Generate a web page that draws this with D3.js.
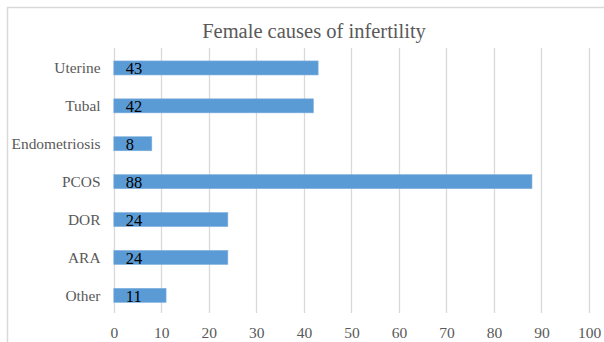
<!DOCTYPE html>
<html>
<head>
<meta charset="utf-8">
<script src="https://cdn.jsdelivr.net/npm/d3@7/dist/d3.min.js"></script>
<style>
  html, body { margin: 0; padding: 0; background: #fff; }
  svg { display: block; }
</style>
</head>
<body>
<svg id="chart" width="604" height="342"></svg>
<script>
// Female causes of infertility (counts)
const categories = ["Uterine", "Tubal", "Endometriosis", "PCOS", "DOR", "ARA", "Other"];
const counts = [43, 42, 8, 88, 24, 24, 11];
const xTicks = [0, 10, 20, 30, 40, 50, 60, 70, 80, 90, 100];
const title = "Female causes of infertility";

const SERIF = "'Liberation Serif', 'Times New Roman', Times, serif";

const svg = d3.select("#chart");

// chart frame
svg.append("rect")
  .attr("x", 7.5).attr("y", 7.5)
  .attr("width", 610).attr("height", 350)
  .attr("fill", "#fff")
  .attr("stroke", "#d9d9d9")
  .attr("stroke-width", 1.5);

const x = d3.scaleLinear().domain([0, 100]).range([113.8, 589]);
const y = d3.scaleBand().domain(categories).range([49, 314.3]).paddingInner(0.63).paddingOuter(0.315);

// vertical gridlines
svg.append("g")
  .selectAll("line")
  .data(xTicks)
  .join("line")
  .attr("x1", d => Math.round(x(d)) + 0.5)
  .attr("x2", d => Math.round(x(d)) + 0.5)
  .attr("y1", 48)
  .attr("y2", 313)
  .attr("stroke", "#d9d9d9")
  .attr("stroke-width", 1.3);

// bars
svg.append("g")
  .selectAll("rect")
  .data(categories)
  .join("rect")
  .attr("x", x(0))
  .attr("y", d => y(d))
  .attr("width", (d, i) => x(counts[i]) - x(0))
  .attr("height", y.bandwidth())
  .attr("fill", "#5b9bd5")
  .attr("stroke", "#7eb0de")
  .attr("stroke-width", 0.6);

// value labels at the bar base
svg.append("g")
  .selectAll("text")
  .data(categories)
  .join("text")
  .attr("x", x(0) + 12)
  .attr("y", d => y(d) + y.bandwidth() / 2 + 6.5)
  .style("font-family", SERIF)
  .style("font-size", "16.5px")
  .attr("fill", "#000")
  .text((d, i) => counts[i]);

// category axis labels
svg.append("g")
  .selectAll("text")
  .data(categories)
  .join("text")
  .attr("x", 100.5)
  .attr("y", d => y(d) + y.bandwidth() / 2 + 5.5)
  .attr("text-anchor", "end")
  .style("font-family", SERIF)
  .style("font-size", "15.4px")
  .attr("fill", "#595959")
  .text(d => d);

// value axis labels
const xAxis = d3.axisBottom(x).tickValues(xTicks).tickSize(0).tickPadding(0);
const gx = svg.append("g").attr("transform", "translate(0,326)").call(xAxis);
gx.select(".domain").remove();
gx.selectAll("text")
  .attr("dy", "0.75em")
  .attr("y", 0)
  .style("font-family", SERIF)
  .style("font-size", "15.5px")
  .attr("fill", "#595959");

// title
svg.append("text")
  .attr("x", 314)
  .attr("y", 37.5)
  .attr("text-anchor", "middle")
  .style("font-family", SERIF)
  .style("font-size", "20.5px")
  .attr("fill", "#595959")
  .text(title);
</script>
</body>
</html>
